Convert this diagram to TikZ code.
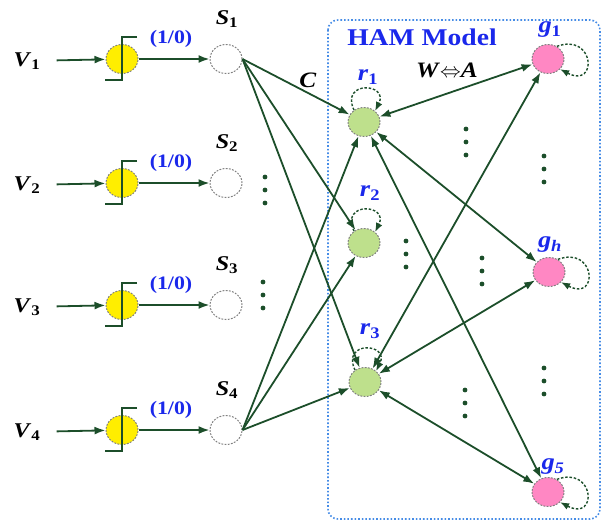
\documentclass[tikz,border=0pt]{standalone}
\usepackage{fontspec}
\setmainfont[FakeStretch=1.15]{Liberation Serif}
\usetikzlibrary{shapes.geometric,arrows.meta}
\definecolor{edgegreen}{RGB}{28,78,42}
\definecolor{swyellow}{RGB}{255,238,0}
\definecolor{rgreen}{RGB}{190,224,140}
\definecolor{gpink}{RGB}{255,135,195}
\definecolor{labblue}{RGB}{26,40,235}
\definecolor{boxblue}{RGB}{70,140,230}
\newcommand{\lbl}[2]{\textbf{\textit{#1}}\textsubscript{\textbf{#2}}}

\begin{document}
\begin{tikzpicture}[x=1pt,y=-1pt,
  >={Latex[length=11pt,width=8pt]},
  con/.style={draw=edgegreen,line width=1.8pt,->},
  bicon/.style={draw=edgegreen,line width=1.8pt,<->},
  selfloop/.style={draw=edgegreen,line width=1.4pt,dash pattern=on 2.5pt off 1.8pt,
    -{Latex[length=9pt,width=7pt]}},
  stepline/.style={draw=edgegreen,line width=1.8pt},
  unit/.style={ellipse,minimum width=32,minimum height=29,inner sep=0pt,
    draw=gray,line width=1pt,dash pattern=on 1.8pt off 1.4pt},
  swnode/.style={unit,fill=swyellow},
  snode/.style={unit,fill=white},
  rnode/.style={unit,fill=rgreen},
  gnode/.style={unit,fill=gpink},
  blacklab/.style={inner sep=0pt,font=\fontsize{21}{24}\selectfont},
  bluelab/.style={inner sep=0pt,text=labblue,font=\fontsize{23}{26}\selectfont},
  onezero/.style={inner sep=0pt,text=labblue,font=\fontsize{19}{22}\selectfont\bfseries}]
\useasboundingbox (0,0) rectangle (601,523);

\draw[boxblue,line width=1.6pt,dotted,rounded corners=10] (328,20) rectangle (600,519);
\node[bluelab,font=\fontsize{24}{28}\selectfont\bfseries] (ham) at (422,37) {HAM Model};
\node[blacklab,font=\fontsize{22}{26}\selectfont] (wa) at (447,70)
  {\textbf{\textit{W}}$\Leftrightarrow$\textbf{\textit{A}}};
\node[blacklab,font=\fontsize{22}{26}\selectfont] (clab) at (308,80) {\textbf{\textit{C}}};

\foreach \i/\y in {1/59,2/183,3/305,4/430}{
  \node[blacklab] (V\i) at (27,\y+2) {\lbl{V}{\i}};
  \node[swnode] (y\i) at (122,\y) {};
  \draw[stepline] (y\i.center) ++(15,-22) -- ++(-15,0) -- ++(0,43) -- ++(-17,0);
  \node[snode] (S\i) at (226,\y) {};
  \node[blacklab] (SL\i) at (227,\y-40) {\lbl{S}{\i}};
  \node[onezero] (oz\i) at (171,\y-20) {(1/0)};
  \draw[con,shorten <=16pt] (V\i) -- (y\i);
  \draw[con] (y\i) -- (S\i);
}

\node[rnode] (r1) at (364,122) {};
\node[rnode] (r2) at (364,243) {};
\node[rnode] (r3) at (365,382) {};
\node[bluelab] (rl1) at (368,77) {\lbl{r}{1}};
\node[bluelab] (rl2) at (370,193) {\lbl{r}{2}};
\node[bluelab] (rl3) at (370,331) {\lbl{r}{3}};

\node[gnode] (g1) at (548,59) {};
\node[gnode] (gh) at (549,272) {};
\node[gnode] (g5) at (548,492) {};
\node[bluelab] (gl1) at (550,30) {\lbl{g}{1}};
\node[bluelab] (glh) at (550,245) {\lbl{g}{\textit{h}}};
\node[bluelab] (gl5) at (553,467) {\lbl{g}{\textit{5}}};

\foreach \s in {1,4}
  \foreach \r in {1,2,3}
    \draw[con] (S\s.east) -- (r\r);
\foreach \r in {1,3}
  \foreach \g in {1,h,5}
    \draw[bicon] (r\r) -- (g\g);

\foreach \r in {r1,r2,r3}
  \draw[selfloop] (\r.130) .. controls +(-14,-30) and +(14,-28) .. (\r.45);
\foreach \g in {g1,gh,g5}
  \draw[selfloop] (\g.55) .. controls +(38,-14) and +(38,20) .. (\g.-40);

\foreach \x/\y in {265/177,263/282,466/129,544/156,406/241,482/258,544/368,465/390}
  \foreach \k in {0,1,2}
    \fill[edgegreen] (\x,\y+13*\k) circle[radius=2.4];
\end{tikzpicture}
\end{document}
